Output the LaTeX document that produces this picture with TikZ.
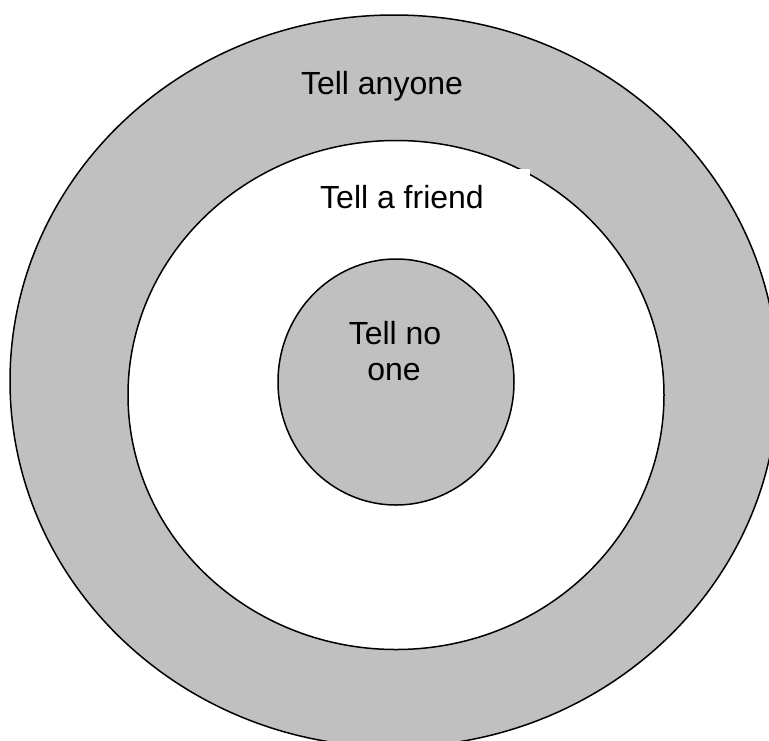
\documentclass[tikz,border=0pt]{standalone}
\usepackage{fontspec}
\setmainfont{Liberation Sans}
\usetikzlibrary{shapes.geometric}
\definecolor{ringgray}{HTML}{C0C0C0}
\tikzset{
  ring/.style={ellipse, draw=black, line width=1.5pt, inner sep=0pt, outer sep=0pt},
  lbl/.style={font=\fontsize{32}{36}\selectfont, text=black, align=center, inner sep=0pt}
}
\begin{document}
\begin{tikzpicture}[x=1pt, y=-1pt]
\useasboundingbox (0,0) rectangle (769,740);
\node[ring, fill=ringgray, minimum width=768pt, minimum height=732pt] (outer) at (394,381) {};
\node[ring, fill=white, minimum width=536pt, minimum height=509pt] (middle) at (396,395) {};
\fill[white] (310,169) rectangle (530,222);
\node[ring, fill=ringgray, minimum width=236pt, minimum height=246pt] (inner) at (396,382) {};
\node[lbl, anchor=base] (anyone) at (382,94) {Tell anyone};
\node[lbl, anchor=base] (friend) at (402,208) {Tell a friend};
\node[lbl, anchor=base] (noone) at (395,344.5) {Tell no};
\node[lbl, anchor=base] (noone2) at (394,380.5) {one};
\end{tikzpicture}
\end{document}
